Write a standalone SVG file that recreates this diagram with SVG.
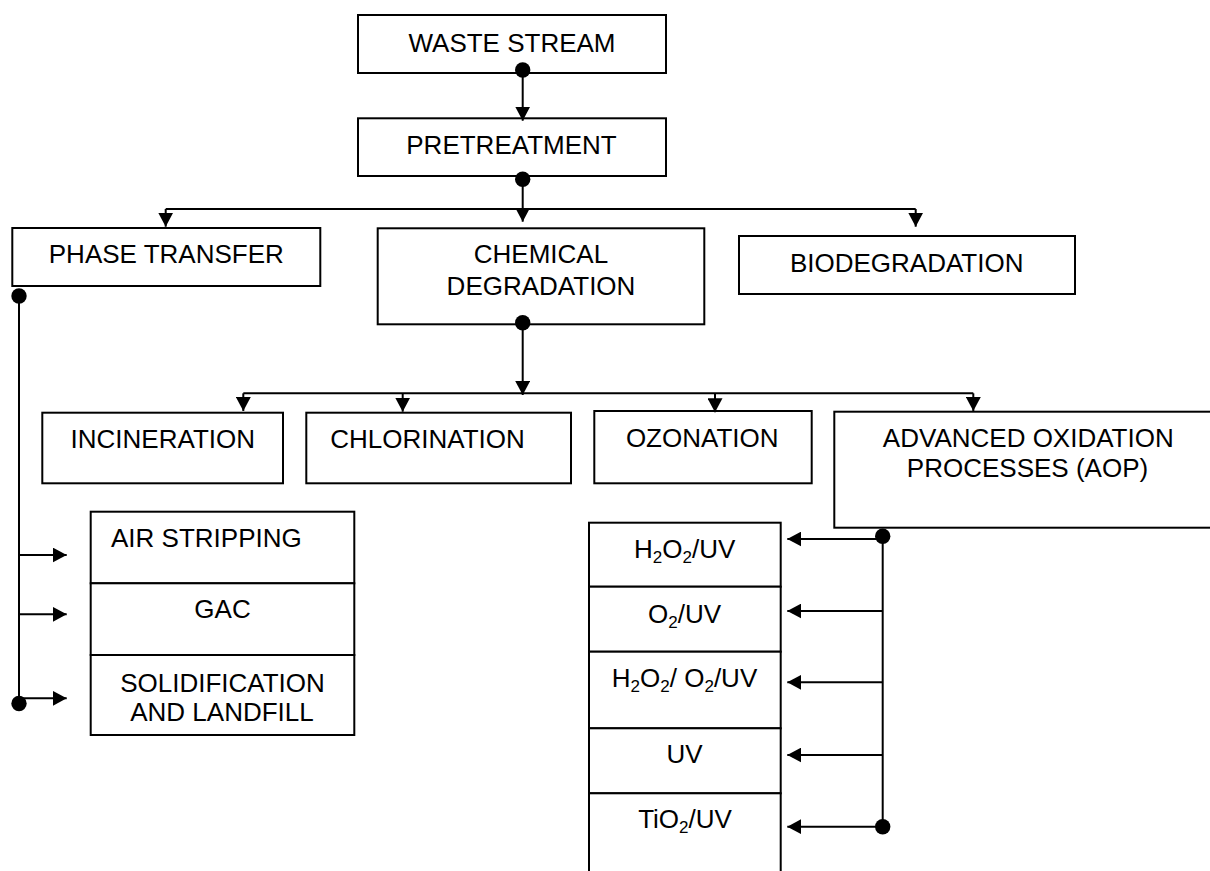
<svg xmlns="http://www.w3.org/2000/svg" width="1210" height="871" viewBox="0 0 1210 871">
<style>
  .box{fill:#fff;stroke:#000;stroke-width:2}
  .t{font-family:"Liberation Sans",Arial,sans-serif;font-size:26px;fill:#000;text-anchor:middle}
  .ts{font-family:"Liberation Sans",Arial,sans-serif;font-size:26px;fill:#000;text-anchor:start}
  .ln{fill:none;stroke:#000;stroke-width:2}
  .dot{fill:#000}
</style>
<defs>
  <marker id="arr" viewBox="0 0 14 15" markerWidth="14" markerHeight="15" refX="14" refY="7.5" orient="auto" markerUnits="userSpaceOnUse">
    <path d="M0,0 L14,7.5 L0,15 z" fill="#000"/>
  </marker>
</defs>
<rect width="1210" height="871" fill="#fff"/>

<g id="waste-stream">
  <rect class="box" x="358" y="15" width="308" height="58"/>
  <text class="t" x="512" y="51.7">WASTE STREAM</text>
</g>
<g id="pretreatment">
  <rect class="box" x="358" y="118.3" width="308" height="57.7"/>
  <text class="t" x="511.5" y="154.3">PRETREATMENT</text>
</g>
<g id="phase-transfer">
  <rect class="box" x="12.3" y="228" width="308" height="58"/>
  <text class="t" x="166.3" y="263.3">PHASE TRANSFER</text>
</g>
<g id="chemical-degradation">
  <rect class="box" x="377.7" y="228.3" width="326.6" height="96"/>
  <text class="t" x="541" y="263.3">CHEMICAL</text>
  <text class="t" x="541" y="295">DEGRADATION</text>
</g>
<g id="biodegradation">
  <rect class="box" x="739" y="236" width="336" height="58"/>
  <text class="t" x="906.7" y="271.7">BIODEGRADATION</text>
</g>
<g id="incineration">
  <rect class="box" x="42.3" y="412.7" width="240.7" height="70.6"/>
  <text class="t" x="162.8" y="448.3">INCINERATION</text>
</g>
<g id="chlorination">
  <rect class="box" x="306.3" y="412.7" width="264.7" height="70.6"/>
  <text class="t" x="427.5" y="448.3">CHLORINATION</text>
</g>
<g id="ozonation">
  <rect class="box" x="594.3" y="411" width="217.4" height="72.3"/>
  <text class="t" x="702.2" y="446.7">OZONATION</text>
</g>
<g id="aop">
  <rect class="box" x="834.3" y="411.7" width="390" height="116"/>
  <text class="t" x="1028.3" y="446.7">ADVANCED OXIDATION</text>
  <text class="t" x="1027.5" y="476.7">PROCESSES (AOP)</text>
</g>

<g id="air-stripping">
  <rect class="box" x="90.7" y="511.7" width="263.6" height="71.6"/>
  <text class="ts" x="111" y="546.7">AIR STRIPPING</text>
</g>
<g id="gac">
  <rect class="box" x="90.7" y="583.3" width="263.6" height="71.7"/>
  <text class="t" x="222.5" y="618.3">GAC</text>
</g>
<g id="solidification">
  <rect class="box" x="90.7" y="655" width="263.6" height="80"/>
  <text class="t" x="222.5" y="691.7">SOLIDIFICATION</text>
  <text class="t" x="222" y="720.7">AND LANDFILL</text>
</g>

<g id="h2o2-uv">
  <rect class="box" x="589" y="522.7" width="191.7" height="64"/>
  <text class="t" x="684.7" y="557.7">H<tspan font-size="17" dy="5">2</tspan><tspan dy="-5">O</tspan><tspan font-size="17" dy="5">2</tspan><tspan dy="-5">/UV</tspan></text>
</g>
<g id="o2-uv">
  <rect class="box" x="589" y="586.7" width="191.7" height="65"/>
  <text class="t" x="684.5" y="622.7">O<tspan font-size="17" dy="5">2</tspan><tspan dy="-5">/UV</tspan></text>
</g>
<g id="h2o2-o2-uv">
  <rect class="box" x="589" y="651.7" width="191.7" height="76.6"/>
  <text class="t" x="684.5" y="686.7">H<tspan font-size="17" dy="5">2</tspan><tspan dy="-5">O</tspan><tspan font-size="17" dy="5">2</tspan><tspan dy="-5">/ O</tspan><tspan font-size="17" dy="5">2</tspan><tspan dy="-5">/UV</tspan></text>
</g>
<g id="uv">
  <rect class="box" x="589" y="728.3" width="191.7" height="65"/>
  <text class="t" x="684.5" y="763.3">UV</text>
</g>
<g id="tio2-uv">
  <rect class="box" x="589" y="793.3" width="191.7" height="90"/>
  <text class="t" x="685" y="828.3">TiO<tspan font-size="17" dy="5">2</tspan><tspan dy="-5">/UV</tspan></text>
</g>

<g id="connectors">
  <!-- waste -> pretreatment -->
  <path class="ln" d="M522.7,70 V120.7" marker-end="url(#arr)"/>
  <circle class="dot" cx="522.7" cy="70" r="7.7"/>
  <!-- pretreatment -> level 1 -->
  <path class="ln" d="M522.7,179.3 V221.7" marker-end="url(#arr)"/>
  <path class="ln" d="M165.7,209 H915.7"/>
  <path class="ln" d="M165.7,209 V226.7" marker-end="url(#arr)"/>
  <path class="ln" d="M915.7,209 V226.7" marker-end="url(#arr)"/>
  <circle class="dot" cx="522.7" cy="179.3" r="7.7"/>
  <!-- chemical -> level 2 -->
  <path class="ln" d="M522.7,322.7 V395" marker-end="url(#arr)"/>
  <path class="ln" d="M243.3,393.3 H973.3"/>
  <path class="ln" d="M243.3,393.3 V411" marker-end="url(#arr)"/>
  <path class="ln" d="M402.7,393.3 V411.7" marker-end="url(#arr)"/>
  <path class="ln" d="M715,393.3 V412.3" marker-end="url(#arr)"/>
  <path class="ln" d="M973.3,393.3 V411" marker-end="url(#arr)"/>
  <circle class="dot" cx="522.7" cy="322.7" r="7.7"/>
  <!-- phase transfer -> stack -->
  <path class="ln" d="M19,296 V702"/>
  <path class="ln" d="M19,555 H66.7" marker-end="url(#arr)"/>
  <path class="ln" d="M19,614.3 H66.7" marker-end="url(#arr)"/>
  <path class="ln" d="M19,698.3 H66.7" marker-end="url(#arr)"/>
  <circle class="dot" cx="19" cy="296" r="7.7"/>
  <circle class="dot" cx="19" cy="703.5" r="7.7"/>
  <!-- AOP -> stack -->
  <path class="ln" d="M882.7,537 V826.7"/>
  <path class="ln" d="M882.7,539 H787.3" marker-end="url(#arr)"/>
  <path class="ln" d="M882.7,611 H787.3" marker-end="url(#arr)"/>
  <path class="ln" d="M882.7,682.3 H787.3" marker-end="url(#arr)"/>
  <path class="ln" d="M882.7,755 H787.3" marker-end="url(#arr)"/>
  <path class="ln" d="M882.7,826.7 H787.3" marker-end="url(#arr)"/>
  <circle class="dot" cx="882.7" cy="536.3" r="7.7"/>
  <circle class="dot" cx="882.7" cy="826.7" r="7.7"/>
</g>
</svg>
